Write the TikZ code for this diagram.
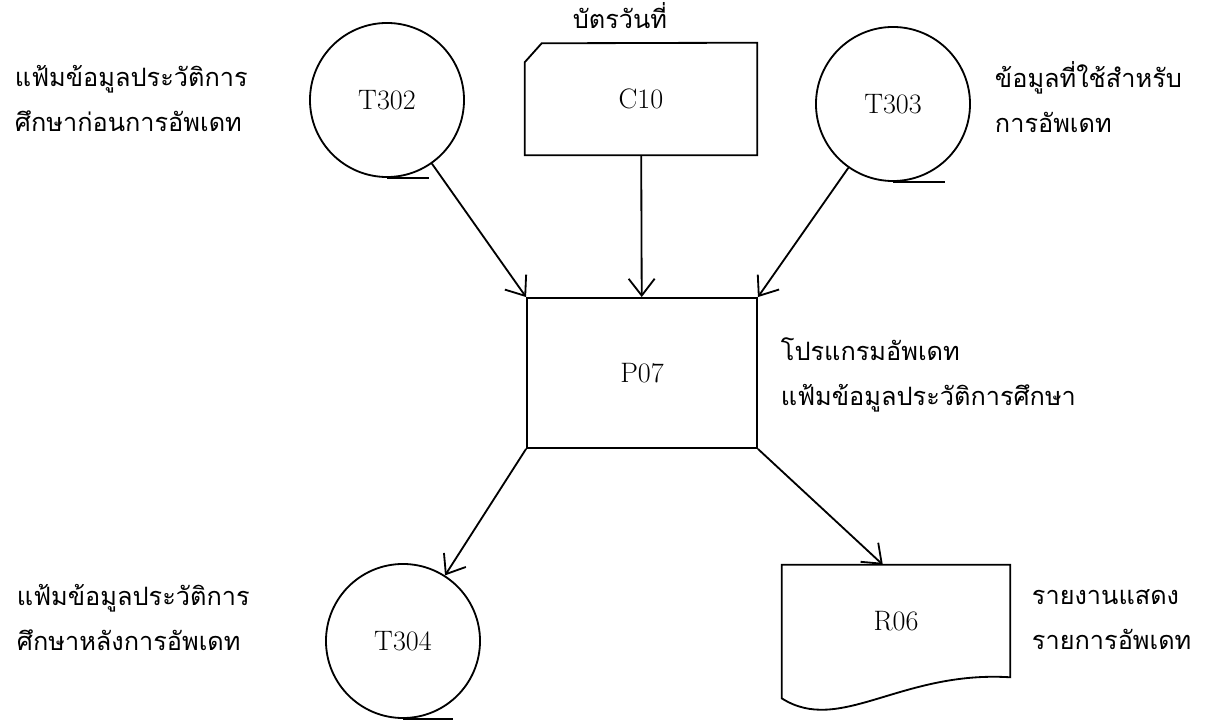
\documentclass[tikz,border=0pt]{standalone}
\usepackage{fontspec}
\newfontfamily\thaifont[Script=Thai]{Loma}
\usetikzlibrary{arrows.meta}

\begin{document}
\begin{tikzpicture}[
  x=0.025cm, y=-0.025cm,
  every node/.style={font=\fontsize{20pt}{24pt}\selectfont},
  ln/.style={line width=1.3pt},
  tapefile/.style={ln, draw, circle, minimum size=3.85cm, inner sep=0pt},
  proc/.style={ln, draw, rectangle, minimum width=5.75cm, minimum height=3.75cm},
  card/.style={rectangle, minimum width=5.8cm, minimum height=2.8cm},
  doc/.style={rectangle, minimum width=5.7cm, minimum height=2.8cm},
  lbl/.style={font=\thaifont\fontsize{18pt}{32pt}\selectfont, align=left, anchor=west},
  fl/.style={ln, -{Straight Barb[length=4.2mm, width=6.5mm]}}
]
\useasboundingbox (0,0) rectangle (1219,720);

\node[tapefile] (t302) at (387,100) {T302};
\node[card]     (c10)  at (641,99)  {C10};
\node[tapefile] (t303) at (893,104) {T303};
\node[proc]     (p07)  at (642,373) {P07};
\node[tapefile] (t304) at (403,641) {T304};
\node[doc]      (r06)  at (896,621) {R06};

\draw[ln] (c10.north east) -- (c10.south east) -- (c10.south west) -- ++(0,-93) -- ++(17,-19) -- cycle;
\draw[ln] (r06.north west) -- (r06.north east) -- (r06.south east)
          .. controls +(-110,-7) and +(58,37) .. ([yshift=-0.525cm]r06.south west) -- cycle;

\draw[ln] (t302.south) -- ++(42,0);
\draw[ln] (t303.south) -- ++(52,0);
\draw[ln] (t304.south) -- ++(50,0);

\draw[fl] (t302) -- (p07.north west);
\draw[fl] (c10)  -- (p07);
\draw[fl] (t303) -- (p07.north east);
\draw[fl] (p07.south west) -- (t304);
\draw[fl] (p07.south east) -- ([xshift=-0.33cm]r06.north);

\node[lbl, anchor=south] (c10lbl) at (620,34) {บัตรวันที่};
\node[lbl] (t302lbl) at (10,99)  {แฟ้มข้อมูลประวัติการ\\ศึกษาก่อนการอัพเดท};
\node[lbl] (t303lbl) at (990,97) {ข้อมูลที่ใช้สำหรับ\\การอัพเดท};
\node[lbl] (p07lbl)  at (776,375) {โปรแกรมอัพเดท\\แฟ้มข้อมูลประวัติการศึกษา};
\node[lbl] (t304lbl) at (12,618) {แฟ้มข้อมูลประวัติการ\\ศึกษาหลังการอัพเดท};
\node[lbl] (r06lbl)  at (1027,620) {รายงานแสดง\\รายการอัพเดท};

\end{tikzpicture}
\end{document}
